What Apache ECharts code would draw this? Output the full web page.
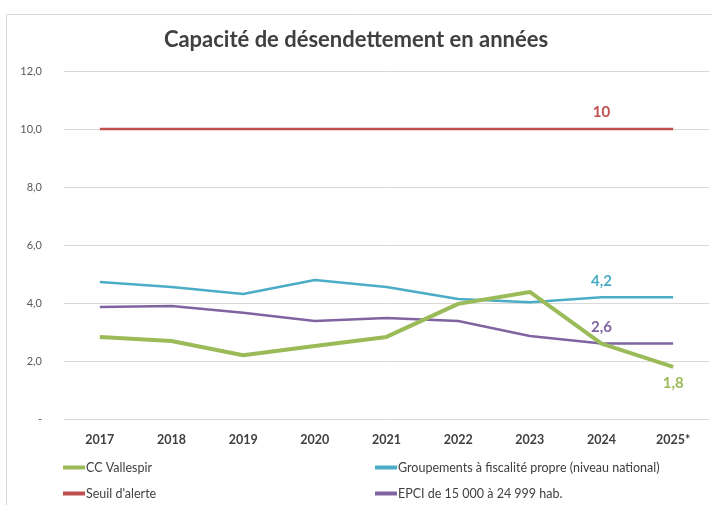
<!DOCTYPE html>
<html>
<head>
<meta charset="utf-8">
<script src="https://cdn.jsdelivr.net/npm/echarts@6/dist/echarts.min.js"></script>
<style>
  html, body { margin: 0; padding: 0; background: #fff; }
  #main { width: 712px; height: 505px; }
</style>
</head>
<body>
<div id="main"></div>
<script>
var years = ['2017', '2018', '2019', '2020', '2021', '2022', '2023', '2024', '2025*'];
var vallespir = [2.83, 2.69, 2.2, 2.52, 2.83, 3.97, 4.38, 2.6, 1.8];
var groupements = [4.72, 4.55, 4.31, 4.79, 4.55, 4.14, 4.03, 4.2, 4.2];
var seuil = [10, 10, 10, 10, 10, 10, 10, 10, 10];
var epci = [3.86, 3.9, 3.66, 3.38, 3.48, 3.38, 2.86, 2.6, 2.6];

var font = 'Lato, "Noto Sans", sans-serif';

// put a value label on one point only
function withLabel(values, idx, pos, color) {
	return values.map(function (v, i) {
		if (i !== idx) return v;
		return {
			value: v,
			label: {
				show: true,
				position: pos,
				distance: 9,
				color: color,
				fontFamily: font,
				fontWeight: 'bold',
				fontSize: 15,
				formatter: function (p) {
					return (p.value % 1 === 0 ? String(p.value) : p.value.toFixed(1)).replace('.', ',');
				}
			}
		};
	});
}

var myChart = echarts.init(document.getElementById('main'));
var option = {
	animation: false,
	title: {
		text: 'Capacité de désendettement en années',
		left: 'center',
		top: 24,
		textStyle: { fontFamily: font, fontSize: 22, fontWeight: 'bold', color: '#404040' }
	},
	graphic: [{
		type: 'rect',
		shape: { x: 6.5, y: 14.5, width: 720, height: 520 },
		style: { fill: 'none', stroke: '#d9d9d9', lineWidth: 1 },
		silent: true
	}],
	legend: [{
		orient: 'vertical',
		left: 58,
		top: 456,
		itemWidth: 22,
		itemHeight: 4,
		itemGap: 13,
		icon: 'rect',
		textStyle: { fontFamily: font, fontSize: 12.5, color: '#404040', padding: [0, 0, 0, -4] },
		data: ['CC Vallespir', "Seuil d'alerte"]
	}, {
		orient: 'vertical',
		left: 370,
		top: 456,
		itemWidth: 22,
		itemHeight: 4,
		itemGap: 13,
		icon: 'rect',
		textStyle: { fontFamily: font, fontSize: 12.5, color: '#404040', padding: [0, 0, 0, -4] },
		data: ['Groupements à fiscalité propre (niveau national)', 'EPCI de 15 000 à 24 999 hab.']
	}],
	grid: { left: 64, right: 3, top: 71, height: 348 },
	xAxis: {
		type: 'category',
		data: years,
		boundaryGap: true,
		axisLine: { show: false },
		axisTick: { show: false },
		axisLabel: { fontFamily: font, fontSize: 12.5, fontWeight: 'bold', color: '#404040', margin: 14 }
	},
	yAxis: {
		type: 'value',
		min: 0,
		max: 12,
		interval: 2,
		axisLine: { show: false },
		axisTick: { show: false },
		splitLine: { lineStyle: { color: '#d9d9d9', width: 1 } },
		axisLabel: {
			fontFamily: font, fontSize: 11, color: '#595959', margin: 22,
			formatter: function (v) { return v === 0 ? '-' : v.toFixed(1).replace('.', ','); }
		}
	},
	series: [{
		name: 'CC Vallespir',
		type: 'line',
		data: withLabel(vallespir, 8, 'bottom', '#9bbb59'),
		symbol: 'circle',
		symbolSize: 0,
		color: '#9bbb59',
		lineStyle: { width: 4, color: '#9bbb59' },
		z: 5
	}, {
		name: 'Groupements à fiscalité propre (niveau national)',
		type: 'line',
		data: withLabel(groupements, 7, 'top', '#4bacc6'),
		symbol: 'circle',
		symbolSize: 0,
		color: '#4bacc6',
		lineStyle: { width: 2.5, color: '#4bacc6' }
	}, {
		name: "Seuil d'alerte",
		type: 'line',
		data: withLabel(seuil, 7, 'top', '#c0504d'),
		symbol: 'circle',
		symbolSize: 0,
		color: '#c0504d',
		lineStyle: { width: 2.5, color: '#c0504d' }
	}, {
		name: 'EPCI de 15 000 à 24 999 hab.',
		type: 'line',
		data: withLabel(epci, 7, 'top', '#8064a2'),
		symbol: 'circle',
		symbolSize: 0,
		color: '#8064a2',
		lineStyle: { width: 2.5, color: '#8064a2' }
	}]
};
myChart.setOption(option);
</script>
</body>
</html>
